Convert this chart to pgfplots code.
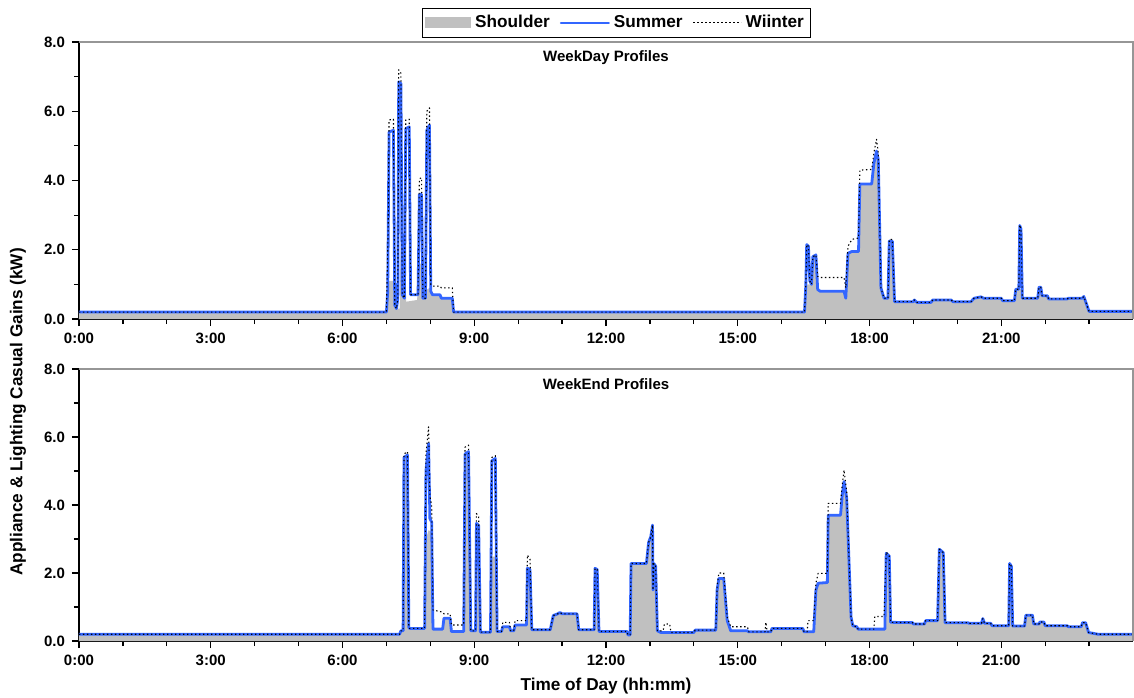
\documentclass[border=0pt]{standalone}
\usepackage{fontspec}
\setmainfont{Liberation Sans}
\usepackage{pgfplots}
\usepackage{pgfplotstable}
\pgfplotsset{compat=1.18}
\definecolor{shoulder}{RGB}{192,192,192}
\definecolor{summer}{RGB}{51,102,255}
\definecolor{framegray}{RGB}{150,150,150}

% ---------- WeekDay ----------
\pgfplotstableread{
h v
0.00 0.20
7.00 0.20
7.03 1.10
7.17 1.10
7.20 0.30
7.30 0.30
7.33 1.95
7.42 1.95
7.45 0.50
7.70 0.55
7.73 1.60
7.82 1.60
7.85 0.80
7.99 0.90
8.02 0.70
8.22 0.70
8.25 0.60
8.50 0.60
8.53 0.20
16.52 0.20
16.55 1.00
16.68 1.00
16.71 1.80
16.78 1.85
16.82 0.85
16.88 0.80
17.42 0.80
17.46 0.60
17.51 1.90
17.60 1.95
17.75 1.95
17.78 3.90
18.05 3.90
18.10 4.50
18.16 4.85
18.20 4.60
18.26 0.90
18.33 0.60
18.42 0.60
18.45 2.25
18.52 2.25
18.57 0.50
19.00 0.50
19.02 0.55
19.08 0.48
19.40 0.48
19.44 0.55
19.86 0.55
19.90 0.50
20.31 0.50
20.38 0.60
20.54 0.64
20.60 0.60
21.00 0.60
21.03 0.53
21.30 0.53
21.33 0.86
21.45 0.86
21.48 0.60
21.83 0.60
21.86 0.92
21.90 0.92
21.93 0.67
22.05 0.67
22.08 0.58
22.50 0.58
22.53 0.60
22.84 0.60
22.88 0.65
22.95 0.40
23.00 0.22
24.00 0.22
}\wdshoulder

\pgfplotstableread{
h v
0.00 0.20
7.00 0.20
7.03 0.80
7.06 5.40
7.16 5.45
7.19 0.40
7.23 0.30
7.26 0.60
7.28 6.85
7.33 6.80
7.36 0.70
7.41 0.60
7.44 5.50
7.52 5.55
7.55 0.70
7.72 0.70
7.75 3.60
7.80 3.60
7.83 0.60
7.89 0.60
7.92 5.45
7.98 5.60
8.01 0.80
8.05 0.70
8.22 0.70
8.25 0.60
8.50 0.60
8.53 0.20
16.52 0.20
16.55 1.00
16.57 2.15
16.61 2.10
16.64 1.10
16.68 1.00
16.71 1.80
16.78 1.85
16.82 0.85
16.88 0.80
17.42 0.80
17.46 0.60
17.51 1.90
17.60 1.95
17.75 1.95
17.78 3.90
18.05 3.90
18.10 4.50
18.16 4.85
18.20 4.60
18.26 0.90
18.33 0.60
18.42 0.60
18.45 2.25
18.52 2.25
18.57 0.50
19.00 0.50
19.02 0.55
19.08 0.48
19.40 0.48
19.44 0.55
19.86 0.55
19.90 0.50
20.31 0.50
20.38 0.60
20.54 0.64
20.60 0.60
21.00 0.60
21.03 0.53
21.30 0.53
21.33 0.86
21.40 0.86
21.42 2.70
21.45 2.60
21.48 0.60
21.83 0.60
21.86 0.92
21.90 0.92
21.93 0.67
22.05 0.67
22.08 0.58
22.50 0.58
22.53 0.60
22.84 0.60
22.88 0.65
22.95 0.40
23.00 0.22
24.00 0.22
}\wdsummer

\pgfplotstableread{
h v
0.00 0.20
7.00 0.20
7.04 2.60
7.06 5.75
7.16 5.77
7.19 0.40
7.23 0.30
7.26 0.60
7.28 7.20
7.33 7.10
7.36 0.70
7.41 0.60
7.44 5.75
7.52 5.77
7.55 0.70
7.72 0.70
7.75 4.05
7.80 4.08
7.83 0.60
7.89 0.60
7.92 6.00
7.98 6.10
8.01 1.00
8.05 0.95
8.22 0.95
8.25 0.90
8.50 0.90
8.53 0.20
16.52 0.20
16.55 1.00
16.57 2.15
16.61 2.10
16.64 1.10
16.68 1.00
16.71 1.80
16.78 1.85
16.82 1.23
16.88 1.20
17.42 1.20
17.46 0.90
17.51 2.10
17.60 2.30
17.75 2.34
17.78 4.30
18.05 4.32
18.10 4.80
18.16 5.19
18.20 4.80
18.26 0.90
18.33 0.60
18.42 0.60
18.45 2.30
18.52 2.30
18.57 0.50
19.00 0.50
19.02 0.55
19.08 0.48
19.40 0.48
19.44 0.55
19.86 0.55
19.90 0.50
20.31 0.50
20.38 0.60
20.54 0.64
20.60 0.60
21.00 0.60
21.03 0.53
21.30 0.53
21.33 0.86
21.40 0.86
21.42 2.72
21.45 2.60
21.48 0.60
21.83 0.60
21.86 0.92
21.90 0.92
21.93 0.67
22.05 0.67
22.08 0.58
22.50 0.58
22.53 0.60
22.84 0.60
22.88 0.65
22.95 0.40
23.00 0.22
24.00 0.22
}\wdwinter

% ---------- WeekEnd ----------
\pgfplotstableread{
h v
0.00 0.20
7.30 0.20
7.33 0.30
7.38 0.30
7.40 5.40
7.48 5.47
7.51 0.40
7.53 0.37
7.87 0.37
7.90 3.00
7.96 3.26
8.03 3.20
8.06 0.35
8.28 0.35
8.31 0.67
8.45 0.67
8.48 0.28
8.76 0.28
8.79 5.50
8.87 5.57
8.92 0.30
9.03 0.30
9.05 3.46
9.10 3.40
9.14 0.26
9.37 0.26
9.40 2.48
9.48 2.48
9.52 0.28
9.62 0.28
9.65 0.42
9.80 0.42
9.83 0.30
9.90 0.30
9.93 0.47
10.19 0.47
10.21 2.14
10.27 2.10
10.31 0.33
10.73 0.33
10.80 0.75
10.90 0.80
10.95 0.84
11.00 0.80
11.34 0.80
11.38 0.33
11.73 0.33
11.75 2.14
11.80 2.10
11.84 0.28
12.48 0.28
12.50 0.18
12.55 0.18
12.57 2.28
12.92 2.28
12.97 2.90
13.02 3.07
13.06 3.41
13.07 1.50
13.09 2.28
13.13 2.20
13.17 0.30
13.25 0.25
14.00 0.25
14.03 0.32
14.50 0.32
14.53 1.50
14.57 1.84
14.68 1.84
14.76 0.60
14.84 0.30
15.22 0.30
15.25 0.27
15.75 0.27
15.78 0.37
16.48 0.37
16.51 0.27
16.73 0.27
16.78 1.50
16.83 1.70
17.04 1.72
17.06 3.70
17.34 3.70
17.38 4.30
17.42 4.69
17.48 4.20
17.58 0.70
17.62 0.45
17.71 0.42
17.74 0.35
18.35 0.35
18.38 2.58
18.45 2.50
18.48 0.55
18.98 0.54
19.00 0.50
19.25 0.50
19.28 0.60
19.55 0.60
19.59 2.70
19.68 2.60
19.72 0.54
20.24 0.54
20.27 0.52
20.55 0.52
20.58 0.66
20.62 0.52
20.76 0.52
20.79 0.45
21.17 0.45
21.19 2.28
21.23 2.20
21.26 0.44
21.53 0.44
21.56 0.76
21.71 0.76
21.74 0.50
21.86 0.50
21.88 0.56
21.97 0.56
22.00 0.45
22.50 0.45
22.53 0.42
22.82 0.42
22.85 0.54
22.92 0.54
22.99 0.25
23.20 0.20
24.00 0.20
}\weshoulder

\pgfplotstableread{
h v
0.00 0.20
7.30 0.20
7.33 0.30
7.38 0.30
7.40 5.40
7.48 5.47
7.51 0.40
7.53 0.37
7.87 0.37
7.90 5.00
7.96 5.81
7.99 3.60
8.03 3.50
8.06 0.35
8.28 0.35
8.31 0.67
8.45 0.67
8.48 0.28
8.76 0.28
8.79 5.50
8.87 5.57
8.92 0.30
9.03 0.30
9.05 3.46
9.10 3.40
9.14 0.26
9.37 0.26
9.40 5.30
9.48 5.37
9.52 0.28
9.62 0.28
9.65 0.42
9.80 0.42
9.83 0.30
9.90 0.30
9.93 0.47
10.19 0.47
10.21 2.14
10.27 2.10
10.31 0.33
10.73 0.33
10.80 0.75
10.90 0.80
10.95 0.84
11.00 0.80
11.34 0.80
11.38 0.33
11.73 0.33
11.75 2.14
11.80 2.10
11.84 0.28
12.48 0.28
12.50 0.18
12.55 0.18
12.57 2.28
12.92 2.28
12.97 2.90
13.02 3.07
13.06 3.41
13.07 1.50
13.09 2.28
13.13 2.20
13.17 0.30
13.25 0.25
14.00 0.25
14.03 0.32
14.50 0.32
14.53 1.50
14.57 1.84
14.68 1.84
14.76 0.60
14.84 0.30
15.22 0.30
15.25 0.27
15.75 0.27
15.78 0.37
16.48 0.37
16.51 0.27
16.73 0.27
16.78 1.50
16.83 1.70
17.04 1.72
17.06 3.70
17.34 3.70
17.38 4.30
17.42 4.69
17.48 4.20
17.58 0.70
17.62 0.45
17.71 0.42
17.74 0.35
18.35 0.35
18.38 2.58
18.45 2.50
18.48 0.55
18.98 0.54
19.00 0.50
19.25 0.50
19.28 0.60
19.55 0.60
19.59 2.70
19.68 2.60
19.72 0.54
20.24 0.54
20.27 0.52
20.55 0.52
20.58 0.66
20.62 0.52
20.76 0.52
20.79 0.45
21.17 0.45
21.19 2.28
21.23 2.20
21.26 0.44
21.53 0.44
21.56 0.76
21.71 0.76
21.74 0.50
21.86 0.50
21.88 0.56
21.97 0.56
22.00 0.45
22.50 0.45
22.53 0.42
22.82 0.42
22.85 0.54
22.92 0.54
22.99 0.25
23.20 0.20
24.00 0.20
}\wesummer

\pgfplotstableread{
h v
0.00 0.20
7.30 0.20
7.33 0.30
7.38 0.30
7.40 5.50
7.48 5.57
7.51 0.40
7.53 0.37
7.87 0.37
7.90 5.50
7.96 6.30
7.99 4.24
8.03 4.00
8.06 0.91
8.28 0.85
8.31 0.80
8.45 0.80
8.48 0.47
8.76 0.47
8.79 5.70
8.87 5.76
8.92 0.30
9.03 0.30
9.05 3.75
9.10 3.65
9.14 0.26
9.37 0.26
9.40 5.40
9.48 5.45
9.52 0.28
9.62 0.28
9.65 0.55
9.80 0.55
9.83 0.30
9.90 0.30
9.93 0.60
10.19 0.60
10.21 2.53
10.27 2.40
10.31 0.33
10.73 0.33
10.80 0.75
10.90 0.80
10.95 0.84
11.00 0.80
11.34 0.80
11.38 0.33
11.73 0.33
11.75 2.14
11.80 2.10
11.84 0.28
12.48 0.28
12.50 0.18
12.55 0.18
12.57 2.28
12.92 2.28
12.97 2.90
13.02 3.07
13.06 3.41
13.07 1.50
13.09 2.28
13.13 2.20
13.17 0.30
13.30 0.30
13.33 0.50
13.45 0.50
13.48 0.25
14.00 0.25
14.03 0.32
14.50 0.32
14.53 1.60
14.57 2.00
14.68 2.00
14.76 0.70
14.84 0.42
15.22 0.42
15.25 0.27
15.62 0.27
15.64 0.55
15.67 0.27
15.75 0.27
15.78 0.37
16.48 0.37
16.51 0.27
16.58 0.27
16.60 0.60
16.73 0.60
16.78 1.70
16.83 1.99
17.04 1.99
17.06 4.05
17.34 4.05
17.38 4.60
17.42 5.03
17.48 4.40
17.58 0.70
17.62 0.45
17.71 0.42
17.74 0.35
18.10 0.35
18.12 0.72
18.33 0.72
18.38 2.62
18.45 2.50
18.48 0.55
18.98 0.54
19.00 0.50
19.25 0.50
19.28 0.60
19.55 0.60
19.59 2.70
19.68 2.60
19.72 0.54
20.24 0.54
20.27 0.52
20.55 0.52
20.58 0.66
20.62 0.52
20.76 0.52
20.79 0.45
21.17 0.45
21.19 2.28
21.23 2.20
21.26 0.44
21.53 0.44
21.56 0.76
21.71 0.76
21.74 0.50
21.86 0.50
21.88 0.56
21.97 0.56
22.00 0.45
22.50 0.45
22.53 0.42
22.82 0.42
22.85 0.54
22.92 0.54
22.99 0.25
23.20 0.20
24.00 0.20
}\wewinter

\pgfplotsset{
  profile/.style={
    scale only axis, width=527pt,
    xmin=0, xmax=24, ymin=0, ymax=8,
    axis x line*=bottom, axis y line*=left,
    axis line style={-, black, line width=0.6pt},
    xtick={0,3,...,21},
    xticklabels={0:00,3:00,6:00,9:00,12:00,15:00,18:00,21:00},
    minor xtick={1,2,4,5,7,8,10,11,13,14,16,17,19,20,22,23},
    ytick={0,2,4,6,8}, yticklabels={0.0,2.0,4.0,6.0,8.0},
    minor ytick={1,3,5,7},
    tick align=outside,
    major tick length=3.5pt, minor tick length=2.5pt,
    tick style={black, line width=0.6pt},
    ticklabel style={font=\bfseries\fontsize{7.5}{9}\selectfont},
  },
  shoulderplot/.style={fill=shoulder, draw=none,
    legend image code/.code={\fill[shoulder] (0pt,-2.75pt) rectangle (23pt,2.75pt);}},
  summerplot/.style={color=summer, line width=1.4pt, line join=round, line cap=round,
    legend image code/.code={\draw[summer,line width=1pt] (0pt,0pt) -- (24pt,0pt);}},
  winterplot/.style={color=black, line width=0.55pt, line join=round, dash pattern=on 0.7pt off 1.3pt,
    legend image code/.code={\draw[black,line width=0.55pt,dash pattern=on 0.7pt off 1.3pt] (0pt,0pt) -- (24pt,0pt);}},
}

\begin{document}
\begin{tikzpicture}
\path[use as bounding box] (-39.5pt,-189pt) rectangle (527.5pt,159.5pt);

\begin{axis}[profile, name=top, height=138.5pt, at={(0pt,0pt)}, anchor=south west,
  legend style={at={(0.51,1)}, anchor=south, yshift=2pt, draw=black, line width=0.5pt,
    legend columns=3, font=\bfseries\fontsize{8.6}{10}\selectfont,
    inner sep=1.5pt, /tikz/every even column/.append style={column sep=3pt}},
  legend cell align=left]
\addplot[shoulderplot] table[x=h,y=v] {\wdshoulder} \closedcycle;
\addplot[summerplot] table[x=h,y=v] {\wdsummer};
\addplot[winterplot] table[x=h,y=v] {\wdwinter};
\legend{Shoulder,Summer,Wiinter}
\end{axis}
\draw[framegray, line width=0.6pt] (top.north west) -- (top.north east) -- (top.south east);
\node[font=\bfseries\fontsize{7.5}{9}\selectfont] at ([yshift=-8pt]top.north) {WeekDay Profiles};

\begin{axis}[profile, name=bot, height=136pt, at={(0pt,-161pt)}, anchor=south west]
\addplot[shoulderplot] table[x=h,y=v] {\weshoulder} \closedcycle;
\addplot[summerplot] table[x=h,y=v] {\wesummer};
\addplot[winterplot] table[x=h,y=v] {\wewinter};
\end{axis}
\draw[framegray, line width=0.6pt] (bot.north west) -- (bot.north east) -- (bot.south east);
\node[font=\bfseries\fontsize{7.5}{9}\selectfont] at ([yshift=-7.5pt]bot.north) {WeekEnd Profiles};

\node[font=\bfseries\fontsize{8.6}{10}\selectfont] at ([yshift=-22.5pt]bot.south) {Time of Day (hh:mm)};
\node[rotate=90, font=\bfseries\fontsize{8.6}{10}\selectfont] at (-30.5pt,-46.5pt) {Appliance \& Lighting Casual Gains (kW)};
\end{tikzpicture}
\end{document}
